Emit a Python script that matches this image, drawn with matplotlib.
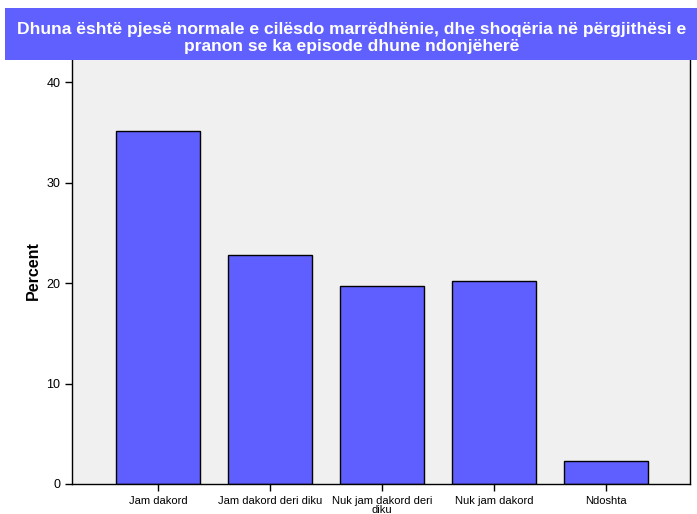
import matplotlib
matplotlib.use("Agg")
import matplotlib.pyplot as plt
from matplotlib.patches import Rectangle

categories = ["Jam dakord", "Jam dakord deri diku", "Nuk jam dakord deri\ndiku", "Nuk jam dakord", "Ndoshta"]
values = [35.1, 22.8, 19.7, 20.2, 2.3]
yticks = [0, 10, 20, 30, 40]
title = "Dhuna është pjesë normale e cilësdo marrëdhënie, dhe shoqëria në përgjithësi e\npranon se ka episode dhune ndonjëherë"

plt.rcParams['font.family'] = ['Liberation Sans', 'DejaVu Sans']

fig = plt.figure(figsize=(6.97, 5.14), dpi=100)
ax = fig.add_axes([72/697, 30/514, (690-72)/697, (484-58)/514])
ax.set_facecolor("#F0F0F0")
x = list(range(len(categories)))
ax.bar(x, values, width=0.75, color="#5F5FFF", edgecolor="black", linewidth=1.0, zorder=2)
ax.set_xlim(-0.768, 4.75)
ax.set_ylim(0, 42.39)
ax.set_yticks(yticks)
ax.set_yticklabels([str(t) for t in yticks], fontsize=9)
ax.set_xticks(x)
ax.set_xticklabels(categories, fontsize=8, linespacing=0.9)
ax.tick_params(axis='both', length=5, width=1, color='black')
for s in ax.spines.values():
    s.set_linewidth(1.0)
ax.set_ylabel("Percent", fontsize=11.5, fontweight='bold', labelpad=4)

# title box
fig.patches.append(Rectangle((5/697, (514-60)/514), (697-5)/697, 52/514,
                             transform=fig.transFigure, facecolor="#6060FF",
                             edgecolor="none", zorder=5))
fig.text(0.5 + 3/697, (514-38)/514, title, ha='center', va='center', color='white',
         fontsize=12.6, fontweight='bold', linespacing=1.22, zorder=6)

fig.savefig("out.png", dpi=100)
